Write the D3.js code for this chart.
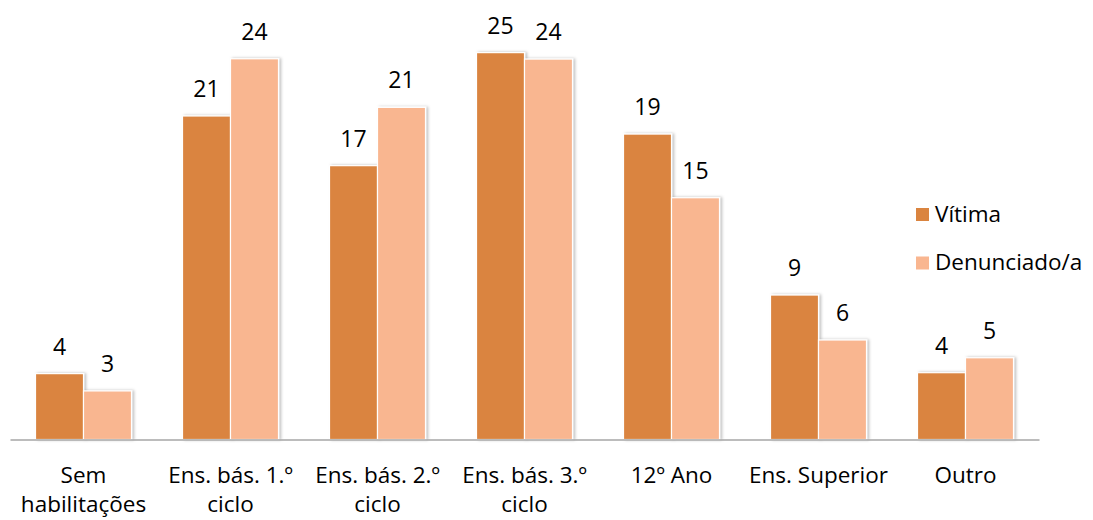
<!DOCTYPE html>
<meta charset="utf-8">
<style>

body {
  margin: 0;
  background: #fff;
  font-family: "Open Sans", sans-serif;
}

.axis path {
  stroke: #a6a6a6;
  stroke-width: 1.5px;
}

.axis text {
  font-family: "Open Sans", sans-serif;
  font-size: 22.5px;
  fill: #000;
}

.value-label {
  font-size: 23px;
  fill: #000;
}

.legend text {
  font-size: 22.5px;
  fill: #000;
}

</style>
<svg width="1093" height="520"></svg>
<script src="https://d3js.org/d3.v7.min.js"></script>
<script>

// values (labels show them rounded)
var categories = ["Sem habilitações", "Ens. bás. 1.º ciclo", "Ens. bás. 2.º ciclo", "Ens. bás. 3.º ciclo", "12º Ano", "Ens. Superior", "Outro"];
var series = ["Vítima", "Denunciado/a"];
var vitima = [4.19, 20.58, 17.42, 24.61, 19.43, 9.19, 4.25];
var denunciado = [3.09, 24.22, 21.13, 24.2, 15.38, 6.33, 5.2];

var colors = ["#da843f", "#f9b690"];

var svg = d3.select("svg"),
    baseline = 439.5,
    left = 10,
    right = 1039;

var defs = svg.append("defs");
var shadow = defs.append("filter")
    .attr("id", "shadow")
    .attr("x", "-10%").attr("y", "-10%")
    .attr("width", "130%").attr("height", "120%");
shadow.append("feDropShadow")
    .attr("dx", 2).attr("dy", 0)
    .attr("stdDeviation", 1.5)
    .attr("flood-color", "#000")
    .attr("flood-opacity", 0.25);

var x = d3.scaleBand()
    .domain(categories)
    .range([left, right])
    .paddingInner(0.347)
    .paddingOuter(0.1735);

var xs = d3.scaleBand()
    .domain(series)
    .range([0, x.bandwidth()]);

var y = d3.scaleLinear()
    .domain([0, 27])
    .range([baseline, baseline - 27 * 15.72]);

var color = d3.scaleOrdinal()
    .domain(series)
    .range(colors);

var rows = categories.map(function(c, i) {
  return {category: c, values: [
    {key: series[0], value: vitima[i]},
    {key: series[1], value: denunciado[i]}
  ]};
});

var format = d3.format(".0f");

var group = svg.append("g")
  .selectAll("g")
  .data(rows)
  .enter().append("g")
    .attr("transform", function(d) { return "translate(" + x(d.category) + ",0)"; });

group.selectAll("rect")
  .data(function(d) { return d.values; })
  .enter().append("rect")
    .attr("x", function(d) { return xs(d.key); })
    .attr("y", function(d) { return y(d.value); })
    .attr("width", xs.bandwidth())
    .attr("height", function(d) { return y(0) - y(d.value); })
    .style("fill", function(d) { return color(d.key); })
    .style("stroke", "#fff")
    .style("stroke-width", 1.2)
    .attr("filter", "url(#shadow)");

group.selectAll("text")
  .data(function(d) { return d.values; })
  .enter().append("text")
    .attr("class", "value-label")
    .attr("x", function(d) { return xs(d.key) + xs.bandwidth() / 2; })
    .attr("y", function(d) { return y(d.value) - 19; })
    .attr("text-anchor", "middle")
    .text(function(d) { return format(d.value); });

var axis = svg.append("g")
    .attr("class", "axis")
    .attr("transform", "translate(0," + baseline + ")")
    .call(d3.axisBottom(x).tickSize(0).tickSizeOuter(0).tickPadding(0));

axis.selectAll(".tick text").call(wrap, x.step());

// Legend
var legend = svg.append("g")
    .attr("class", "legend")
  .selectAll("g")
  .data(series)
  .enter().append("g")
    .attr("transform", function(d, i) { return "translate(916," + (208 + i * 48.5) + ")"; });

legend.append("rect")
    .attr("width", 13)
    .attr("height", 13)
    .style("fill", function(d) { return color(d); });

legend.append("text")
    .attr("x", 19)
    .attr("y", 13.5)
    .text(function(d) { return d; });

function wrap(text, width) {
  text.each(function() {
    var text = d3.select(this),
        words = text.text().split(/\s+/),
        lines = [],
        line = [];
    text.text(null).attr("dy", null).attr("y", null);
    var probe = text.append("tspan");
    words.forEach(function(w) {
      line.push(w);
      probe.text(line.join(" "));
      if (probe.node().getComputedTextLength() > width && line.length > 1) {
        line.pop();
        lines.push(line.join(" "));
        line = [w];
      }
    });
    lines.push(line.join(" "));
    probe.remove();
    lines.forEach(function(l, i) {
      text.append("tspan")
          .attr("x", 0)
          .attr("y", 43.5 + i * 29)
          .text(l);
    });
  });
}

</script>
